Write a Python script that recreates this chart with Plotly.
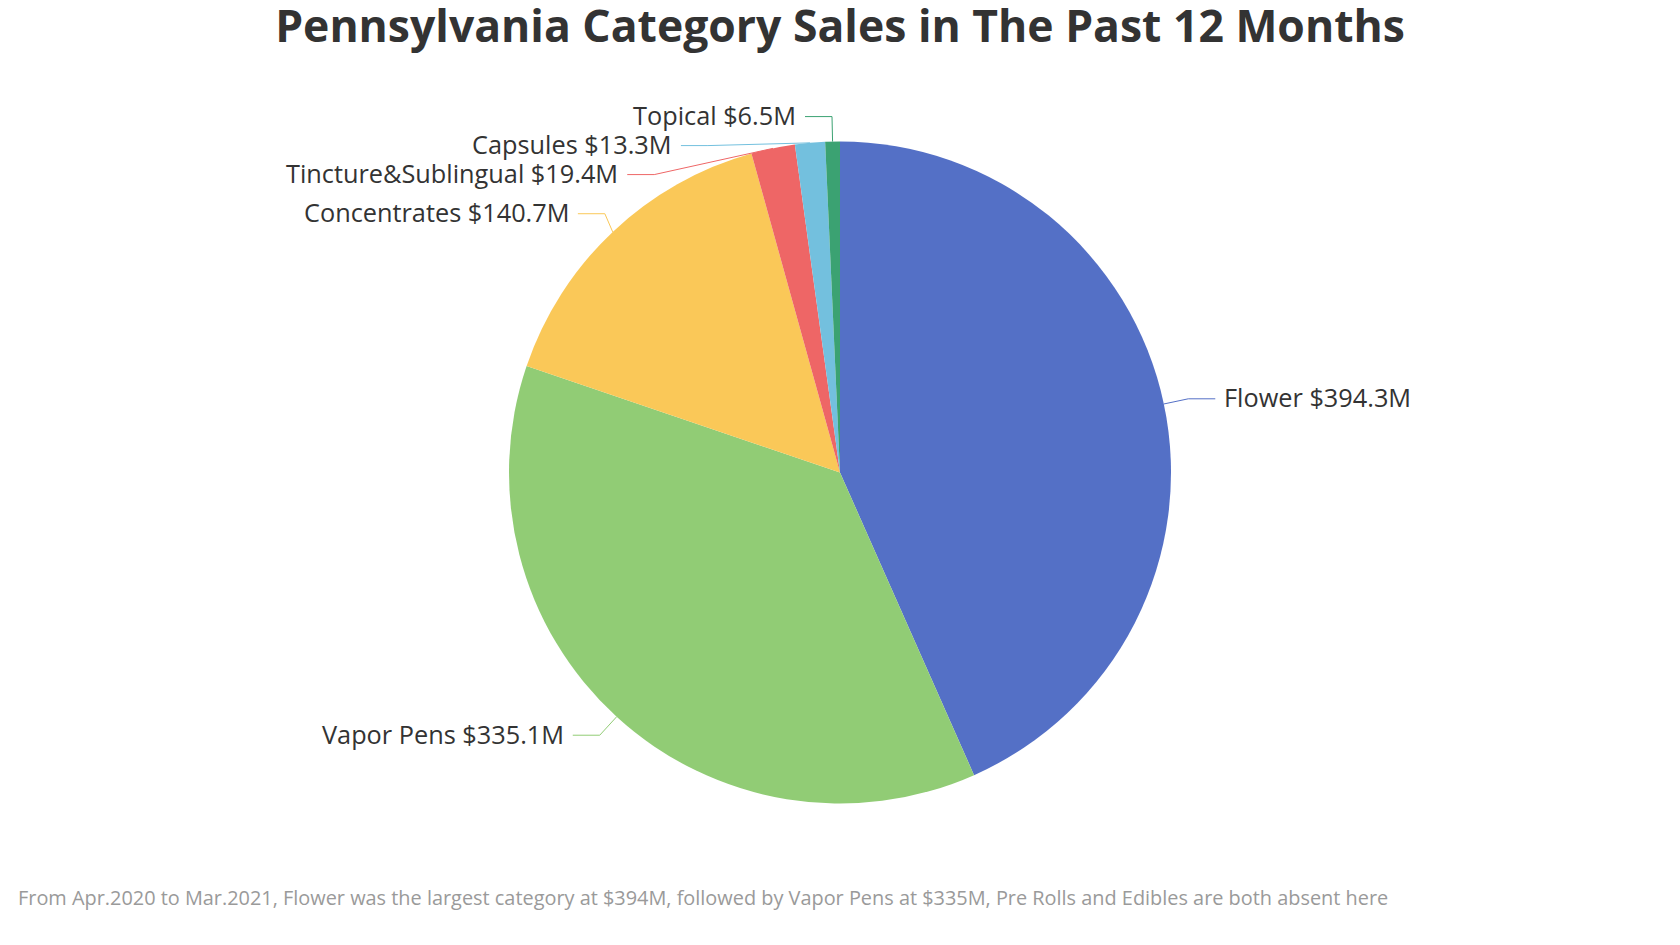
import math
import plotly.graph_objects as go

categories = ["Flower", "Vapor Pens", "Concentrates", "Tincture&Sublingual", "Capsules", "Topical"]
sales_musd = [394.3, 335.1, 140.7, 19.4, 13.3, 6.5]
colors = ["#5470c6", "#91cc75", "#fac858", "#ee6666", "#73c0de", "#3ba272"]

title_text = "Pennsylvania Category Sales in The Past 12 Months"
note_text = ("From Apr.2020 to Mar.2021, Flower was the largest category at $394M, "
             "followed by Vapor Pens at $335M, Pre Rolls and Edibles are both absent here")

W, H = 1680, 945
PAGE = 8                      # the html body margin shifts the whole plot by 8px
CX, CY, R = W / 2 - PAGE, H / 2 - PAGE, 331
LEN1, LEN2, GAP, LINE_H = 25, 27, 9.6, 29
TEXT_PAD = 2.5                # annotation box padding
FONT = "Open Sans, Noto Sans, sans-serif"


# echarts-like outside labels: radial segment, then a short horizontal one,
# overlapping labels pushed apart and realigned on an ellipse
def layout_labels():
    total = sum(sales_musd)
    items = []
    cum = 0.0
    for name, v, c in zip(categories, sales_musd, colors):
        mid = (cum + v / 2) / total * 2 * math.pi
        cum += v
        sx, sy = math.sin(mid), -math.cos(mid)
        side = 1 if sx >= 0 else -1
        bx = CX + (R + LEN1) * sx
        items.append(dict(
            text=f"{name} ${v}M", color=c, side=side,
            edge=(CX + R * sx, CY + R * sy),
            bx=bx, ex=bx + side * LEN2, y=CY + (R + LEN1) * sy,
        ))

    rA = R + LEN1
    for side in (-1, 1):
        group = sorted([it for it in items if it["side"] == side], key=lambda it: it["y"])
        shifted = False
        prev = None
        for it in group:
            if prev is not None and it["y"] < prev + LINE_H:
                it["y"] = prev + LINE_H
                shifted = True
            prev = it["y"]
        if not shifted:
            continue
        for upper in (True, False):
            half = [it for it in group if (it["y"] < CY) == upper]
            if not half:
                continue
            far = max(half, key=lambda it: abs(it["y"] - CY))
            dx = far["bx"] + side * GAP - CX
            dy = abs(far["y"] - CY)
            rB = dy / math.sqrt(1 - dx * dx / rA / rA) if abs(dx) < rA else rA
            for it in half:
                dy = abs(it["y"] - CY)
                dxe = math.sqrt(max(0.0, 1 - dy * dy / rB / rB)) * rA
                text_x = CX + side * (dxe + LEN2)
                it["ex"] = text_x - side * GAP
                it["bx"] = it["ex"] - side * LEN2
    return items


fig = go.Figure(go.Pie(
    labels=categories,
    values=sales_musd,
    marker=dict(colors=colors),
    sort=False,
    direction="clockwise",
    rotation=0,
    textinfo="none",
    hoverinfo="label+value+percent",
    showlegend=False,
    domain=dict(x=[(CX - R) / W, (CX + R) / W], y=[1 - (CY + R) / H, 1 - (CY - R) / H]),
))


def px(x):
    return x / W


def py(y):
    return 1 - y / H


for it in layout_labels():
    x0, y0 = it["edge"]
    fig.add_shape(
        type="path", xref="paper", yref="paper",
        path=f"M {px(x0)},{py(y0)} L {px(it['bx'])},{py(it['y'])} L {px(it['ex'])},{py(it['y'])}",
        line=dict(color=it["color"], width=1),
    )
    fig.add_annotation(
        x=px(it["ex"] + it["side"] * (GAP - TEXT_PAD)), y=py(it["y"] - 1.5),
        xref="paper", yref="paper", showarrow=False,
        xanchor="left" if it["side"] > 0 else "right", yanchor="middle",
        text=it["text"], font=dict(family=FONT, size=25.3, color="#333333"),
    )

fig.add_annotation(
    x=px(18.2 - PAGE - TEXT_PAD), y=py(897.8 - PAGE), xref="paper", yref="paper", showarrow=False,
    xanchor="left", yanchor="middle", text=note_text,
    font=dict(family=FONT, size=19.9, color="#9a9a9a"),
)

fig.update_layout(
    width=W, height=H,
    title=dict(text=title_text, x=CX / W, xanchor="center", y=py(26.8 - PAGE), yanchor="middle",
               font=dict(family=FONT, size=44.5, color="#333333", weight="bold")),
    paper_bgcolor="white",
    plot_bgcolor="white",
    margin=dict(l=0, r=0, t=0, b=0),
)

fig.write_html("out.html")
